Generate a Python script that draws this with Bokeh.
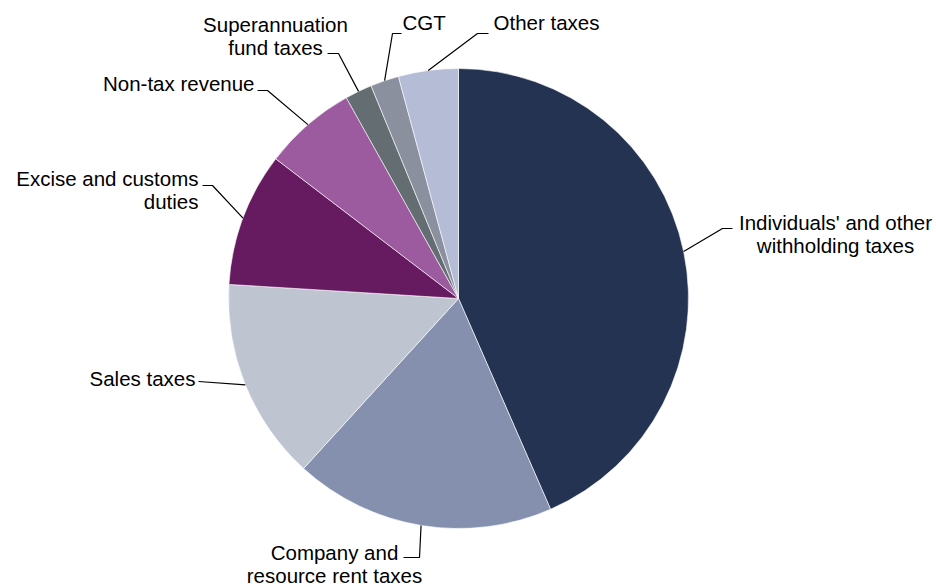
import math
from bokeh.plotting import figure
from bokeh.models import Range1d, ColumnDataSource
from bokeh.core.properties import value
from bokeh.embed import file_html
from bokeh.resources import INLINE

# ---- data (share of revenue, %) ----
categories = ["Individuals' and other withholding taxes",
              "Company and resource rent taxes",
              "Sales taxes",
              "Excise and customs duties",
              "Non-tax revenue",
              "Superannuation fund taxes",
              "CGT",
              "Other taxes"]
shares = [43.4, 18.3, 14.2, 9.4, 6.5, 1.9, 2.0, 4.2]
colors = ["#243352", "#8490AE", "#BFC5D0", "#661A60",
          "#9C5A9F", "#646E72", "#8A909E", "#B4BCD6"]
label_lines = [["Individuals' and other", "withholding taxes"],
               ["Company and", "resource rent taxes"],
               ["Sales taxes"],
               ["Excise and customs", "duties"],
               ["Non-tax revenue"],
               ["Superannuation", "fund taxes"],
               ["CGT"],
               ["Other taxes"]]

# ---- layout (screen pixels) ----
W, H = 936, 587
def sx(x): return x
def sy(y): return H - y

CX, CY, R = sx(458), sy(298), 230

# label layout: (text x, first line y, align, elbow point, leader end point)
label_layout = [
    (835, 222, "center", (722, 228), (732, 228)),
    (334, 552, "center", (419, 557), (403, 557)),
    (195, 378, "right", None, (198, 381)),
    (198, 178, "right", (212, 185), (202, 185)),
    (254, 83, "right", (267, 90), (257, 90)),
    (275, 24, "center", (338, 53), (327, 53)),
    (402, 22, "left", (392, 33), (401, 33)),
    (493, 22, "left", (477, 33), (488, 33)),
]
LINE_H = 23
FONT = "Liberation Sans"
FSIZE = "20.5px"

p = figure(width=W, height=H, output_backend="svg", toolbar_location=None,
           x_range=Range1d(0, W), y_range=Range1d(0, H),
           x_axis_type=None, y_axis_type=None, min_border=0)
p.outline_line_color = None
p.grid.visible = False
p.background_fill_color = "white"

total = float(sum(shares))
starts, ends, mids = [], [], []
cum = 0.0
for s in shares:
    a0 = math.pi / 2 - 2 * math.pi * cum / total
    cum += s
    a1 = math.pi / 2 - 2 * math.pi * cum / total
    starts.append(a0)
    ends.append(a1)
    mids.append((a0 + a1) / 2)

src = ColumnDataSource(dict(x=[CX] * len(shares), y=[CY] * len(shares),
                            start=starts, end=ends, color=colors, cat=categories))
p.wedge(x="x", y="y", radius=R, start_angle="start", end_angle="end",
        direction="clock", fill_color="color", line_color="white",
        line_width=0.6, source=src)

# leader lines
for m, lay in zip(mids, label_layout):
    _, _, _, elbow, end = lay
    xs = [CX + R * math.cos(m)]
    ys = [CY + R * math.sin(m)]
    if elbow is not None:
        xs.append(sx(elbow[0])); ys.append(sy(elbow[1]))
    xs.append(sx(end[0])); ys.append(sy(end[1]))
    p.line(xs, ys, line_color="black", line_width=1.2)

# labels
tx, ty, tt, ta = [], [], [], []
for lines, lay in zip(label_lines, label_layout):
    x0, y0, align, _, _ = lay
    for i, ln in enumerate(lines):
        tx.append(sx(x0)); ty.append(sy(y0 + i * LINE_H)); tt.append(ln); ta.append(align)
tsrc = ColumnDataSource(dict(x=tx, y=ty, text=tt, align=ta))
p.text(x="x", y="y", text="text", text_align="align", text_baseline="middle",
       text_font=value(FONT), text_font_size=FSIZE, text_color="black", source=tsrc)

open("out.html", "w").write(file_html(p, INLINE))
